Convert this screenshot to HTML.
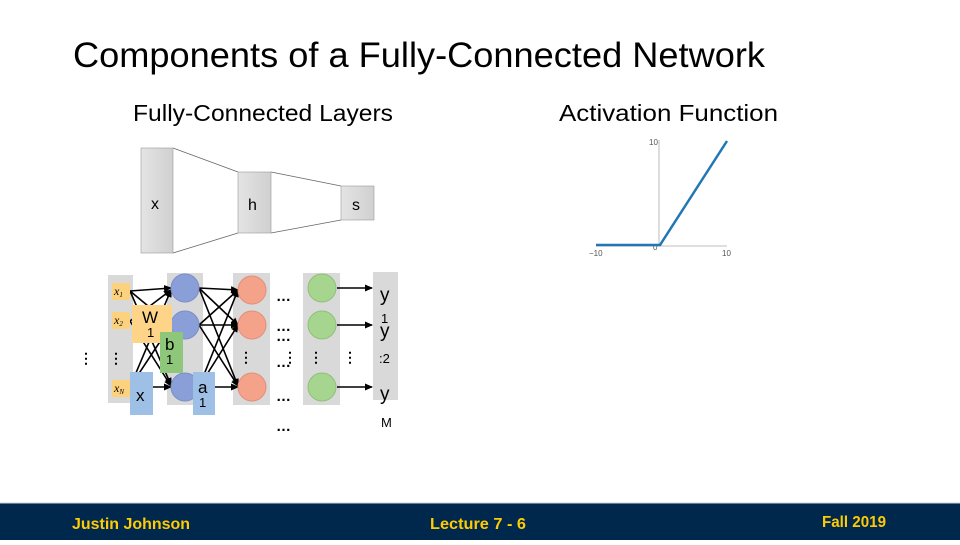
<!DOCTYPE html>
<html><head><meta charset="utf-8"><style>
body{margin:0;width:960px;height:540px;overflow:hidden;background:#fff;font-family:"Liberation Sans",sans-serif}
</style></head><body>
<svg width="960" height="540" xmlns="http://www.w3.org/2000/svg" font-family="Liberation Sans, sans-serif">
<defs>
<linearGradient id="g" x1="0" x2="1"><stop offset="0" stop-color="#e4e4e4"/><stop offset="1" stop-color="#d0d0d0"/></linearGradient>
<marker id="ar" markerWidth="8" markerHeight="8" refX="7" refY="4" orient="auto" markerUnits="userSpaceOnUse"><path d="M0,0.5 L8,4 L0,7.5z" fill="#000"/></marker>
</defs>
<text x="73" y="67" font-size="35" fill="#000" textLength="692" lengthAdjust="spacingAndGlyphs">Components of a Fully-Connected Network</text>
<text x="133" y="121" font-size="23" textLength="260" lengthAdjust="spacingAndGlyphs">Fully-Connected Layers</text>
<text x="559" y="121" font-size="23" textLength="219" lengthAdjust="spacingAndGlyphs">Activation Function</text>
<!-- top diagram -->
<g stroke="#666" stroke-width="0.8" fill="none">
<line x1="173" y1="148" x2="238" y2="172"/><line x1="173" y1="253" x2="238" y2="233"/>
<line x1="271" y1="172" x2="341" y2="186"/><line x1="271" y1="233" x2="341" y2="220"/>
</g>
<rect x="141" y="148" width="32" height="105" fill="url(#g)" stroke="#999" stroke-width="0.6"/>
<rect x="238" y="172" width="33" height="61" fill="url(#g)" stroke="#999" stroke-width="0.6"/>
<rect x="341" y="186" width="33" height="34" fill="url(#g)" stroke="#999" stroke-width="0.6"/>
<text x="151" y="209" font-size="16">x</text>
<text x="248" y="210" font-size="16">h</text>
<text x="352" y="210" font-size="16">s</text>
<!-- relu -->
<g font-size="8" fill="#555">
<line x1="659" y1="140" x2="659" y2="246" stroke="#aaa" stroke-width="0.8"/>
<line x1="596" y1="246" x2="727" y2="246" stroke="#aaa" stroke-width="0.8"/>
<text x="649" y="145">10</text><text x="589" y="256">−10</text><text x="653" y="250">0</text><text x="722" y="256">10</text>
<polyline points="596,245 660,245 727,141" fill="none" stroke="#1f77b4" stroke-width="2.5"/>
</g>
<!-- bottom network -->
<rect x="108" y="275" width="25" height="128" fill="#d9d9d9"/>
<rect x="167" y="273" width="36" height="132" fill="#d9d9d9"/>
<rect x="233" y="273" width="37" height="132" fill="#d9d9d9"/>
<rect x="303" y="273" width="37" height="132" fill="#d9d9d9"/>
<rect x="373" y="272" width="25" height="128" fill="#d9d9d9"/>
<g stroke="#000" stroke-width="1.6" marker-end="url(#ar)">
<line x1="130" y1="291" x2="171" y2="288"/><line x1="130" y1="291" x2="171" y2="325"/><line x1="130" y1="291" x2="171" y2="385"/>
<line x1="130" y1="321" x2="171" y2="290"/><line x1="130" y1="321" x2="171" y2="386"/>
<line x1="130" y1="387" x2="171" y2="290"/><line x1="130" y1="387" x2="171" y2="325"/><line x1="150" y1="387" x2="171" y2="387"/>
<line x1="199" y1="288" x2="238" y2="290"/><line x1="199" y1="288" x2="238" y2="325"/><line x1="199" y1="288" x2="238" y2="386"/>
<line x1="199" y1="325" x2="238" y2="290"/><line x1="199" y1="325" x2="238" y2="325"/><line x1="199" y1="325" x2="238" y2="386"/>
<line x1="199" y1="387" x2="238" y2="290"/><line x1="199" y1="387" x2="238" y2="325"/><line x1="214" y1="387" x2="238" y2="387"/>
<line x1="337" y1="288" x2="372" y2="288"/><line x1="337" y1="325" x2="372" y2="325"/><line x1="337" y1="387" x2="372" y2="387"/>
</g>
<g fill="#8a9fd8" stroke="#7a8fc8"><circle cx="185" cy="288" r="14"/><circle cx="185" cy="325" r="14"/><circle cx="185" cy="387" r="14"/></g>
<g fill="#f4a28a" stroke="#e0907a"><circle cx="252" cy="290" r="14"/><circle cx="252" cy="325" r="14"/><circle cx="252" cy="387" r="14"/></g>
<g fill="#a5d58e" stroke="#90c07a"><circle cx="322" cy="288" r="14"/><circle cx="322" cy="325" r="14"/><circle cx="322" cy="387" r="14"/></g>
<g fill="#fcd27f"><rect x="112" y="283" width="18" height="17"/><rect x="112" y="312" width="18" height="17"/><rect x="112" y="380" width="18" height="17"/></g>
<g font-family="Liberation Serif, serif" font-style="italic" font-size="12">
<text x="114" y="295">x<tspan font-size="7" dy="2">1</tspan></text>
<text x="114" y="324">x<tspan font-size="7" dy="2">2</tspan></text>
<text x="114" y="392">x<tspan font-size="7" dy="2">N</tspan></text>
</g>
<rect x="132" y="305" width="40" height="38" fill="#fdd488"/>
<rect x="160" y="332" width="23" height="41" fill="#8fc77a"/>
<rect x="130" y="372" width="23" height="43" fill="#9ec0e6"/>
<rect x="193" y="372" width="22" height="43" fill="#9ec0e6"/>
<g font-size="17" fill="#000">
<text x="142" y="323">W</text><text x="147" y="337" font-size="13">1</text>
<text x="165" y="350">b</text><text x="166" y="364" font-size="13">1</text>
<text x="136" y="401">x</text>
<text x="198" y="393">a</text><text x="199" y="407" font-size="13">1</text>
<text x="380" y="301" font-size="19">y</text><text x="381" y="323" font-size="13">1</text>
<text x="380" y="337" font-size="19">y</text><text x="379" y="363" font-size="13">:2</text>
<text x="380" y="400" font-size="19">y</text><text x="381" y="427" font-size="13">M</text>
</g>
<g font-size="15" font-weight="bold" fill="#000">
<text x="276" y="301">…</text><text x="276" y="331">…</text><text x="276" y="341">…</text><text x="276" y="367">…</text><text x="276" y="401">…</text><text x="276" y="431">…</text>
<text x="79" y="363" font-size="14">⋮</text><text x="109" y="363" font-size="14">⋮</text><text x="239" y="362" font-size="14">⋮</text><text x="283" y="362" font-size="14">⋮</text><text x="309" y="362" font-size="14">⋮</text><text x="343" y="362" font-size="14">⋮</text>
</g>
<!-- footer -->
<rect x="0" y="503" width="960" height="37" fill="#00274c"/>
<line x1="0" y1="503" x2="960" y2="503" stroke="#c8d4e0" stroke-width="1"/>
<g font-family="Liberation Sans Narrow, Liberation Sans, sans-serif" font-weight="bold" font-size="16" fill="#ffcb05">
<text x="72" y="529" textLength="118" lengthAdjust="spacingAndGlyphs">Justin Johnson</text>
<text x="430" y="529" textLength="96" lengthAdjust="spacingAndGlyphs">Lecture 7 - 6</text>
<text x="822" y="527" textLength="64" lengthAdjust="spacingAndGlyphs">Fall 2019</text>
</g>
</svg>
</body></html>
